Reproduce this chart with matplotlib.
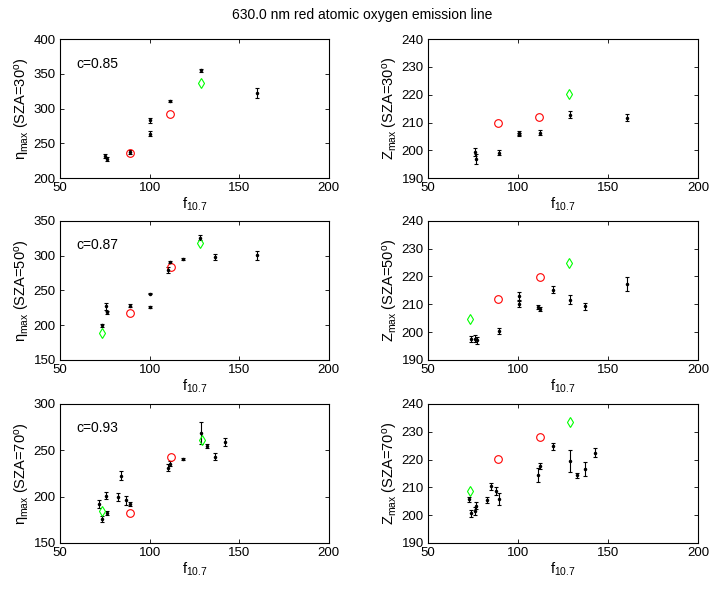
import numpy as np
import matplotlib
matplotlib.use('Agg')
from matplotlib import pyplot as plt

plt.rcParams['font.family'] = ['Liberation Sans', 'DejaVu Sans']
plt.rcParams['mathtext.fontset'] = 'custom'
plt.rcParams['mathtext.rm'] = 'Liberation Sans'
plt.rcParams['mathtext.it'] = 'Liberation Sans'
plt.rcParams['mathtext.default'] = 'regular'
plt.rcParams['font.size'] = 9

# ---- SZA = 30 ----
f30_eta = [75, 76, 89, 100, 100, 111.5, 128.5, 160]
eta30 = [232, 227, 238, 283, 264, 311, 355, 323]
eta30_err = [3, 3, 3, 3, 4, 2, 2, 7]
f30_z = [76, 76.5, 89.4, 100.4, 100.6, 112, 129, 160.6]
z30 = [199.5, 197, 199.2, 206.2, 205.8, 206.3, 212.9, 211.7]
z30_err = [1.5, 1.8, 0.8, 0.6, 0.6, 0.9, 1.2, 1.3]
red30_f = [89, 111.5]
red30_eta = [236, 292]
red30_z = [210, 212]
green30_f = [128.5]
green30_eta = [337]
green30_z = [220.3]
c30 = 'c=0.85'

# ---- SZA = 50 ----
f50_eta = [73.5, 75.8, 76.2, 88.8, 100.1, 100.1, 110.5, 111.5, 118.7, 128.4, 136.5, 160.1]
eta50 = [200, 227, 218.5, 228, 245.4, 226, 279, 290.8, 295, 326, 298, 300.3]
eta50_err = [2, 5, 2, 2, 1, 1, 4, 2, 1, 3, 4, 6]
f50_z = [74, 76, 77, 89.4, 100.6, 100.6, 110.9, 112, 119.3, 129, 137, 160.6]
z50 = [197.5, 197.6, 197, 200.4, 213, 210.2, 209, 208.4, 215.3, 211.7, 209.3, 217.3]
z50_err = [1.2, 1.2, 1.2, 1.0, 1.5, 1.0, 0.8, 0.8, 1.2, 1.5, 1.2, 2.5]
red50_f = [88.8, 112]
red50_eta = [217, 283]
red50_z = [211.9, 219.8]
green50_f = [73.4, 128.4]
green50_eta = [189, 318.6]
green50_z = [204.8, 225]
c50 = 'c=0.87'

# ---- SZA = 70 ----
f70_eta = [71.9, 73.6, 76.2, 75.8, 82.3, 84.3, 87.1, 88.8, 110.5, 111.5, 118.9, 128.5, 132.3, 136.5, 142.1]
eta70 = [192, 175.8, 182.6, 201, 199.7, 222.5, 196, 192, 231.2, 235.6, 240.2, 269, 254.8, 243.2, 259.1]
eta70_err = [4, 3, 2, 4, 4, 5, 5, 2, 4, 3, 1, 12, 2, 4, 4]
f70_z = [72.8, 74.1, 76.3, 76.9, 83, 85.2, 87.8, 89.4, 110.9, 112, 119.3, 129, 132.6, 137, 142.8]
z70 = [205.7, 200.7, 201.4, 203.4, 205.5, 210.4, 208.6, 205.8, 214.3, 217.7, 224.8, 219.4, 214.3, 216.5, 222.5]
z70_err = [0.8, 1.2, 1.5, 1.2, 1.0, 1.2, 1.5, 2.2, 2.5, 1.2, 1.2, 4, 1.0, 2.5, 1.5]
red70_f = [89, 112]
red70_eta = [182.3, 242.4]
red70_z = [220.1, 228]
green70_f = [73.4, 129]
green70_eta = [184, 261.3]
green70_z = [208.7, 233.6]
c70 = 'c=0.93'

sza = [30, 50, 70]
eta_ylims = [(200, 400), (150, 350), (150, 300)]

rows = [
    (f30_eta, eta30, eta30_err, f30_z, z30, z30_err, red30_f, red30_eta, red30_z,
     green30_f, green30_eta, green30_z, c30),
    (f50_eta, eta50, eta50_err, f50_z, z50, z50_err, red50_f, red50_eta, red50_z,
     green50_f, green50_eta, green50_z, c50),
    (f70_eta, eta70, eta70_err, f70_z, z70, z70_err, red70_f, red70_eta, red70_z,
     green70_f, green70_eta, green70_z, c70),
]

fig = plt.figure(figsize=(7.11, 5.90), dpi=100)
bottoms = [0.698, 0.390, 0.0797]
h = 0.2356


def style(ax):
    ax.tick_params(direction='in', top=True, right=True, length=3, width=0.6,
                   labelsize=9.5, pad=3)
    for s in ax.spines.values():
        s.set_linewidth(0.8)


for i, r in enumerate(rows):
    fe, e, ee, fz, z, ze, rf, re, rz, gf, ge, gz, c = r

    ax = fig.add_axes([0.0844, bottoms[i], 0.378, h])
    ax.errorbar(fe, e, yerr=ee, fmt='.', color='k', ms=3, elinewidth=0.8,
                capsize=1.5, capthick=0.8)
    ax.plot(rf, re, 'o', mfc='none', mec='r', ms=5.5, mew=0.8)
    ax.plot(gf, ge, 'd', mfc='none', mec=(0, 1, 0), ms=5.5, mew=0.8)
    ax.set_xlim(50, 200)
    ax.set_ylim(*eta_ylims[i])
    ax.set_xticks([50, 100, 150, 200])
    ax.set_yticks(np.arange(eta_ylims[i][0], eta_ylims[i][1] + 1, 50))
    ax.text(0.06, 0.825, c, transform=ax.transAxes, fontsize=10, va='center')
    ax.set_ylabel(r'$\eta_{max}$ (SZA=%d$^o$)' % sza[i], fontsize=10.5, labelpad=1)
    ax.set_xlabel(r'f$_{10.7}$', fontsize=10.5, labelpad=1)
    style(ax)

    ax2 = fig.add_axes([0.602, bottoms[i], 0.380, h])
    ax2.errorbar(fz, z, yerr=ze, fmt='.', color='k', ms=3, elinewidth=0.8,
                 capsize=1.5, capthick=0.8)
    ax2.plot(rf, rz, 'o', mfc='none', mec='r', ms=5.5, mew=0.8)
    ax2.plot(gf, gz, 'd', mfc='none', mec=(0, 1, 0), ms=5.5, mew=0.8)
    ax2.set_xlim(50, 200)
    ax2.set_ylim(190, 240)
    ax2.set_xticks([50, 100, 150, 200])
    ax2.set_yticks(np.arange(190, 241, 10))
    ax2.set_ylabel(r'$Z_{max}$ (SZA=%d$^o$)' % sza[i], fontsize=10.5, labelpad=1)
    ax2.set_xlabel(r'f$_{10.7}$', fontsize=10.5, labelpad=1)
    style(ax2)

fig.text(0.51, 0.975, '630.0 nm red atomic oxygen emission line',
         ha='center', va='center', fontsize=10)

fig.savefig('out.png', dpi=100)
